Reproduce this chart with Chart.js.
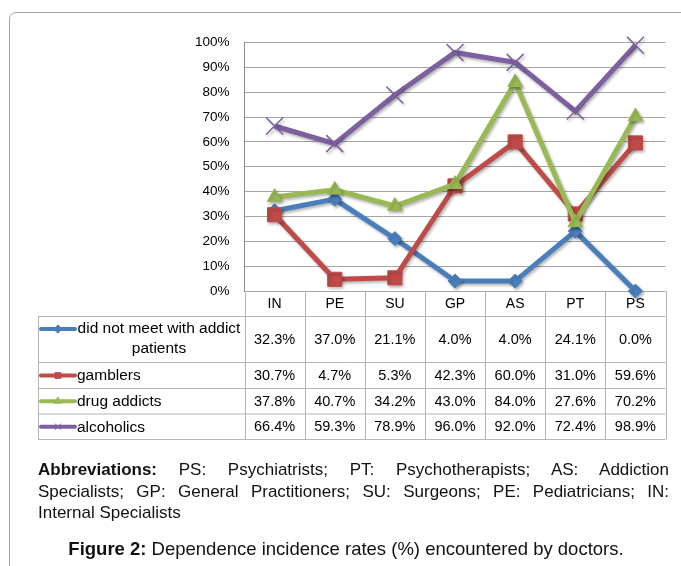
<!DOCTYPE html>
<html>
<head>
<meta charset="utf-8">
<script src="https://cdn.jsdelivr.net/npm/chart.js@4"></script>
<style>
  body { margin: 0; background: #fff; }
  #wrap { position: relative; width: 681px; height: 566px; overflow: hidden; font-family: "Liberation Sans", Arial, sans-serif; }
  #box { position: absolute; left: 9px; top: 12px; width: 700px; height: 600px; border: 1px solid #a6a6a6; border-radius: 7px; }
  #chart { position: absolute; left: 0; top: 0; }
  .ln { position: absolute; left: 38px; width: 631px; font-size: 17px; line-height: 21.5px; color: #111; white-space: nowrap; }
  .just { text-align: justify; text-align-last: justify; white-space: normal; }
  #cap { position: absolute; left: 0; width: 692px; top: 538px; text-align: center; font-size: 18.5px; line-height: 22px; color: #111; }
</style>
</head>
<body>
<div id="wrap">
  <div id="box"></div>
  <canvas id="chart" width="681" height="566"></canvas>
  <div class="ln just" style="top:459px"><b>Abbreviations:</b> PS: Psychiatrists; PT: Psychotherapists; AS: Addiction</div>
  <div class="ln just" style="top:480.5px">Specialists; GP: General Practitioners; SU: Surgeons; PE: Pediatricians; IN:</div>
  <div class="ln" style="top:502px">Internal Specialists</div>
  <div id="cap"><b>Figure 2:</b> Dependence incidence rates (%) encountered by doctors.</div>
</div>
<script>
// categories and values (%)
const categories = ["IN", "PE", "SU", "GP", "AS", "PT", "PS"];
const seriesNames = [["did not meet with addict", "patients"], ["gamblers"], ["drug addicts"], ["alcoholics"]];
const notMet = [32.3, 37.0, 21.1, 4.0, 4.0, 24.1, 0.0];
const gamblers = [30.7, 4.7, 5.3, 42.3, 60.0, 31.0, 59.6];
const drugAddicts = [37.8, 40.7, 34.2, 43.0, 84.0, 27.6, 70.2];
const alcoholics = [66.4, 59.3, 78.9, 96.0, 92.0, 72.4, 98.9];
const yTicks = [0, 10, 20, 30, 40, 50, 60, 70, 80, 90, 100];

const colors = ["#4a7ebb", "#be4b48", "#98b954", "#7d60a0"];
const styles = ["rectRot", "rect", "triangle", "crossRot"];
const radii = [7, 10, 8.5, 12];

const valueFont = '14.5px "Liberation Sans", Arial, sans-serif';
const nameFont = '15.5px "Liberation Sans", Arial, sans-serif';
const rowLines = [316.5, 362.5, 388.5, 414, 439.5];
const tableLeft = 38;

// simple drop shadow under the lines, like the Excel original
const shadow = {
  id: 'shadow',
  beforeDatasetDraw(chart) {
    const c = chart.ctx;
    c.save();
    c.shadowColor = 'rgba(0,0,0,0.3)';
    c.shadowBlur = 3;
    c.shadowOffsetX = 1.5;
    c.shadowOffsetY = 2;
  },
  afterDatasetDraw(chart) {
    chart.ctx.restore();
  }
};

// data table under the plot
const dataTable = {
  id: 'dataTable',
  afterDraw(chart) {
    const c = chart.ctx;
    const xs = chart.scales.x;
    const area = chart.chartArea;
    const step = (area.right - area.left) / categories.length;
    c.save();
    c.strokeStyle = '#b4b4b4';
    c.lineWidth = 1;
    c.beginPath();
    rowLines.forEach(y => { c.moveTo(tableLeft, y); c.lineTo(area.right, y); });
    c.moveTo(tableLeft + 0.5, rowLines[0]); c.lineTo(tableLeft + 0.5, rowLines[4]);
    for (let i = 0; i <= categories.length; i++) {
      const x = Math.round(area.left + i * step) + 0.5;
      c.moveTo(x, area.bottom); c.lineTo(x, rowLines[4]);
    }
    c.stroke();

    const all = [notMet, gamblers, drugAddicts, alcoholics];
    c.textBaseline = 'middle';
    all.forEach((vals, r) => {
      const top = rowLines[r], bot = rowLines[r + 1];
      const mid = (top + bot) / 2;
      c.fillStyle = '#000';
      c.font = valueFont;
      c.textAlign = 'center';
      vals.forEach((v, i) => {
        c.fillText(v.toFixed(1) + '%', xs.getPixelForValue(i), mid + 0.5);
      });
      const names = seriesNames[r];
      const keyY = names.length > 1 ? top + 12.5 : mid;
      // legend key
      c.strokeStyle = colors[r];
      c.lineWidth = 4;
      c.lineCap = 'round';
      c.beginPath();
      c.moveTo(41, keyY); c.lineTo(75, keyY);
      c.stroke();
      c.fillStyle = colors[r];
      c.lineWidth = 1;
      Chart.helpers.drawPoint(c, { pointStyle: styles[r], radius: 4, borderWidth: 1 }, 58, keyY);
      c.fillStyle = '#000';
      c.font = nameFont;
      if (names.length > 1) {
        c.textAlign = 'center';
        c.fillText(names[0], 159, top + 12.5);
        c.fillText(names[1], 159, top + 32.5);
      } else {
        c.textAlign = 'left';
        c.fillText(names[0], 77, mid + 0.5);
      }
    });
    c.restore();
  }
};

const series = [notMet, gamblers, drugAddicts, alcoholics];
const datasets = series.map((vals, i) => ({
  label: seriesNames[i].join(' '),
  data: vals,
  borderColor: colors[i],
  backgroundColor: colors[i],
  borderWidth: 5,
  pointStyle: styles[i],
  pointRadius: radii[i],
  pointBorderWidth: styles[i] === 'crossRot' ? 1.5 : 1,
  pointBorderColor: colors[i],
  pointBackgroundColor: colors[i],
  tension: 0,
  clip: false,
  order: 4 - i
}));

new Chart(document.getElementById('chart'), {
  type: 'line',
  data: { labels: categories, datasets: datasets },
  options: {
    responsive: false,
    animation: false,
    events: [],
    layout: { padding: { left: 0, top: 42.5, right: 15.5, bottom: 0 } },
    plugins: { legend: { display: false }, tooltip: { enabled: false } },
    scales: {
      x: {
        offset: true,
        grid: { display: false, drawTicks: false },
        border: { display: false },
        ticks: { color: '#000', padding: 5, font: { size: 14, family: '"Liberation Sans", Arial, sans-serif' } },
        afterFit(scale) { scale.height = 566 - 291; }
      },
      y: {
        min: 0,
        max: 100,
        afterBuildTicks(scale) { scale.ticks = yTicks.map(v => ({ value: v })); },
        grid: { color: '#a6a6a6', drawTicks: false },
        border: { color: '#8c8c8c' },
        ticks: {
          color: '#000',
          padding: 15,
          font: { size: 13.5, family: '"Liberation Sans", Arial, sans-serif' },
          callback: v => v + '%'
        },
        afterFit(scale) { scale.width = 244.5; }
      }
    }
  },
  plugins: [shadow, dataTable]
});
</script>
</body>
</html>
